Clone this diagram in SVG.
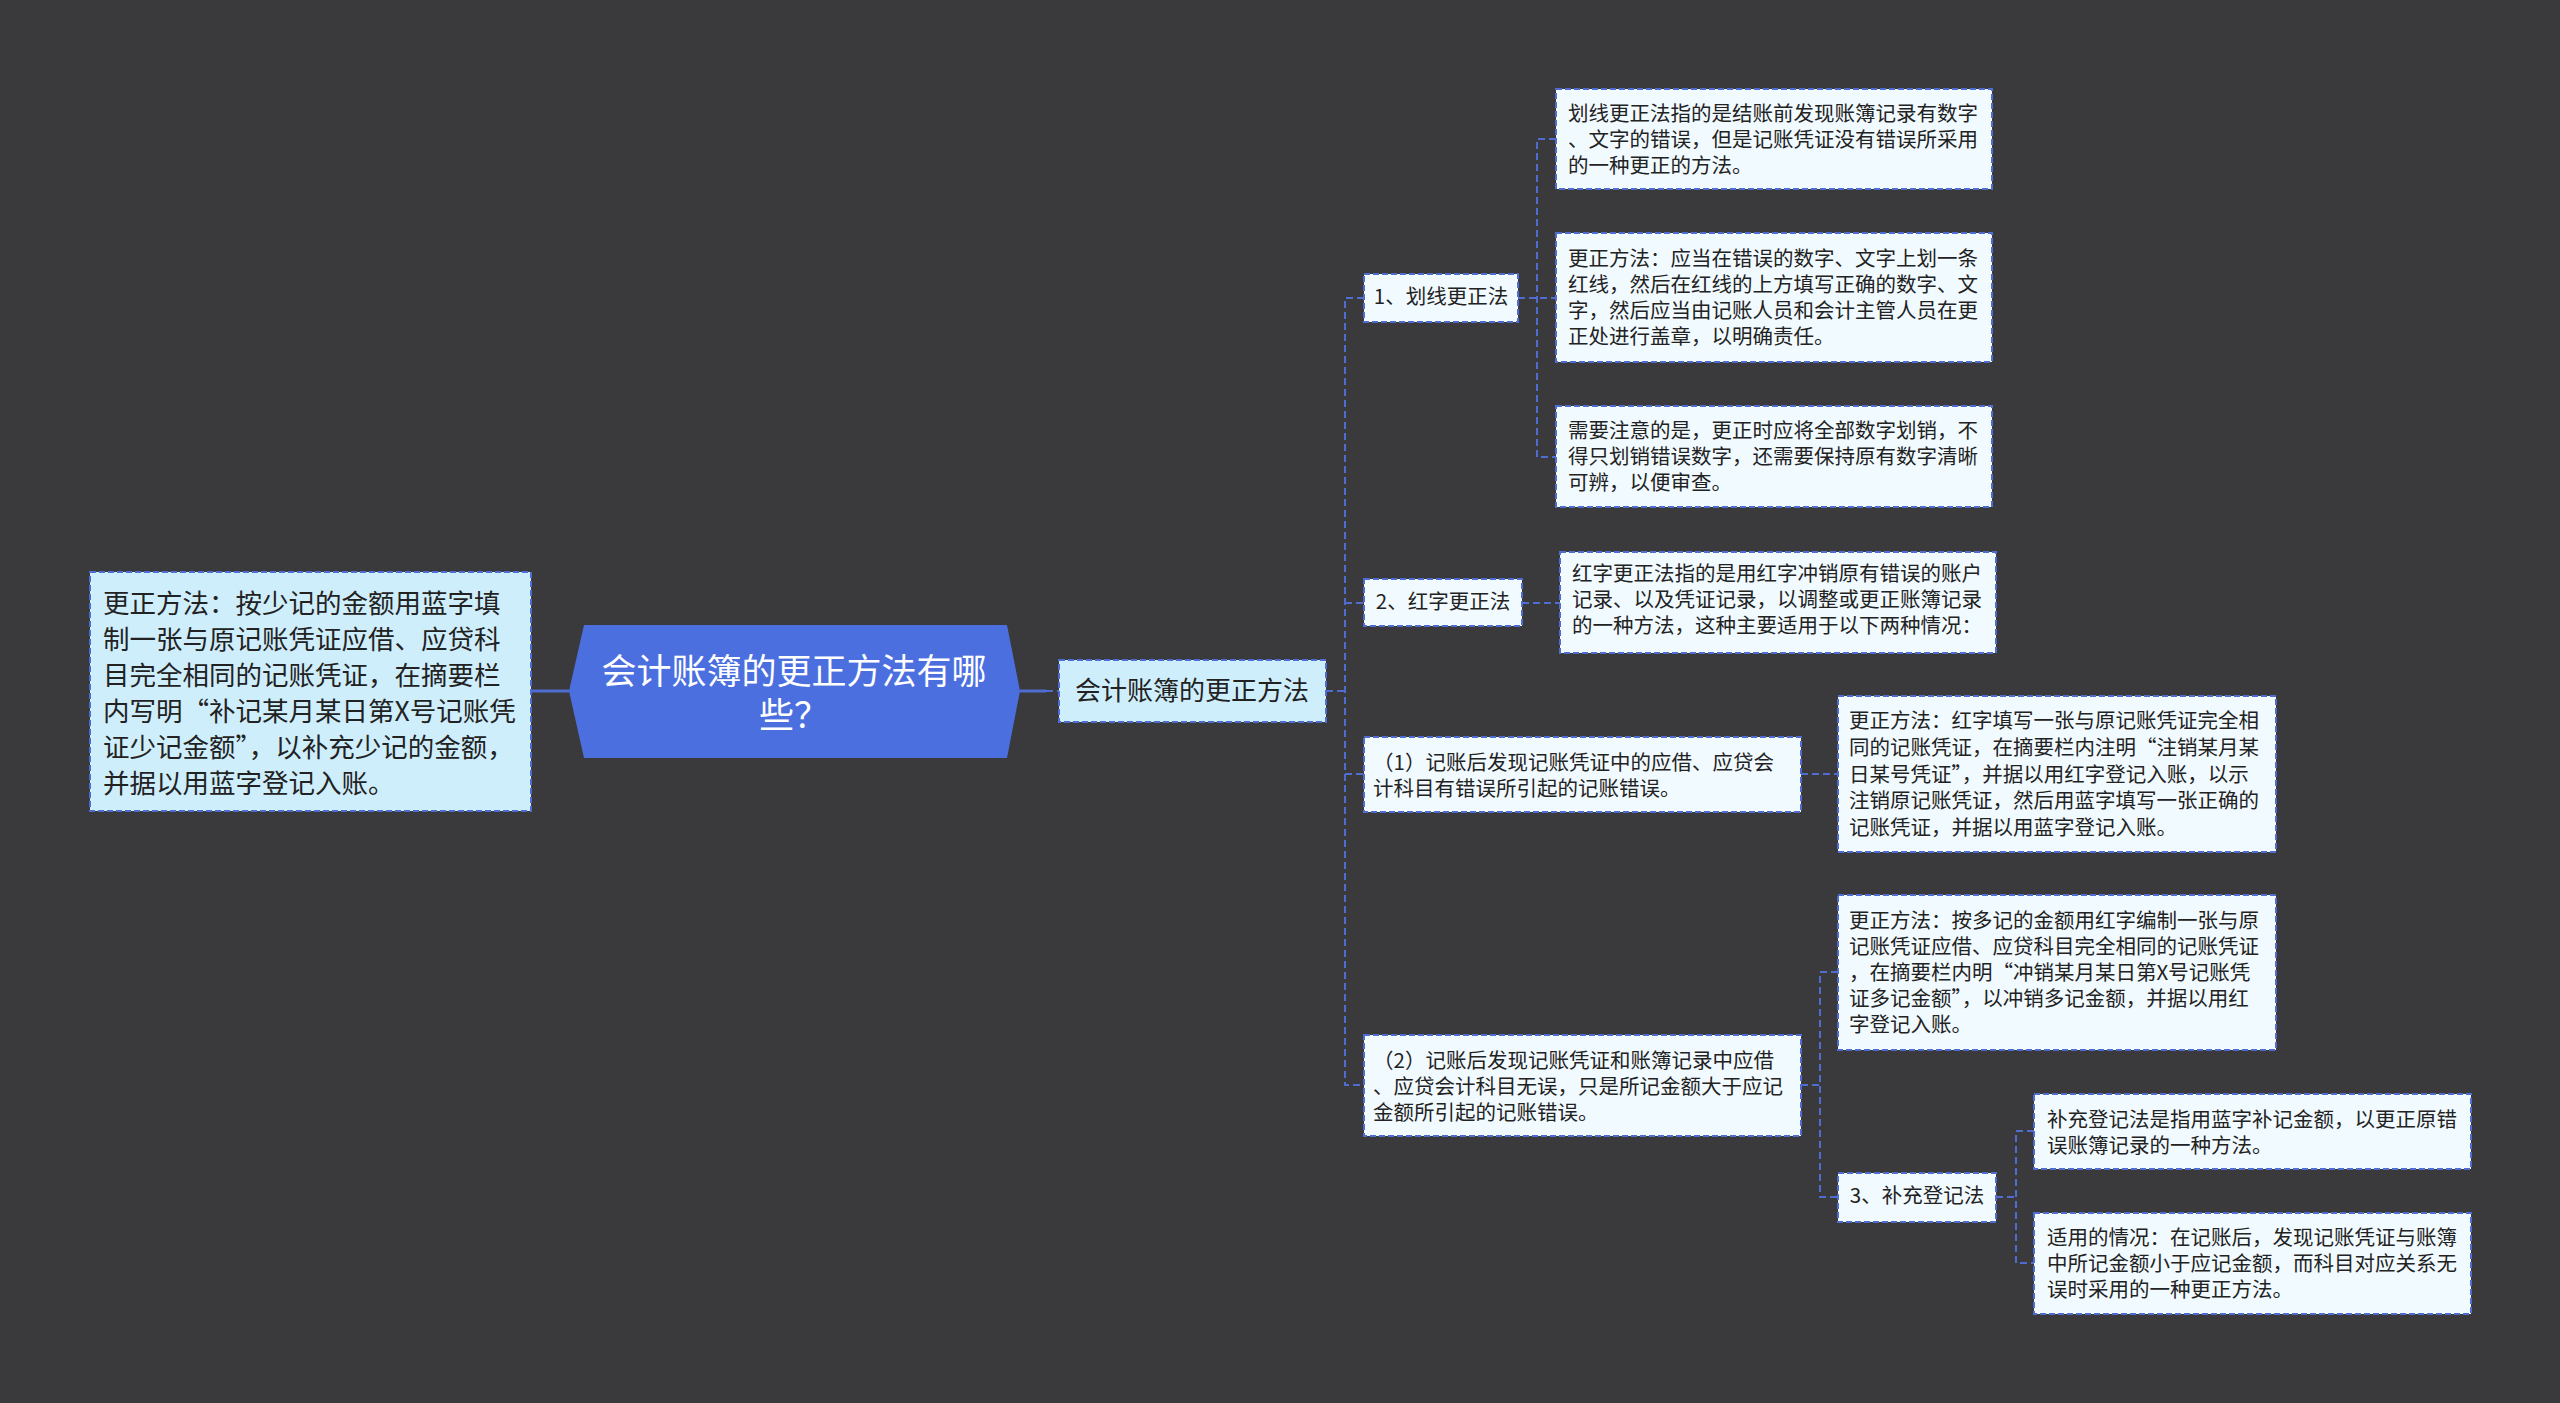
<svg xmlns="http://www.w3.org/2000/svg" width="2560" height="1403" viewBox="0 0 2560 1403">
<style>
.bg{fill:#3a393c}
.leaf{fill:#f1faff;stroke:#4f6dd0;stroke-width:2;stroke-dasharray:6 3}
.sub{fill:#cfeefc;stroke:#4f6dd0;stroke-width:2;stroke-dasharray:6 3}
.root{fill:#4c6fe0}
.t{font-family:"Noto Sans CJK SC","Noto Sans",sans-serif;fill:#222;dominant-baseline:central;transform:translateY(-3px)}
.s{font-size:20.5px}
.m{font-size:26.5px}
.w{fill:#ffffff;font-size:35px}
.c{text-anchor:middle}
.ln{fill:none;stroke:#4f6dd0;stroke-width:2;stroke-dasharray:7 4}
.solid{fill:none;stroke:#4f6dd0;stroke-width:3}
</style>
<rect class="bg" x="0" y="0" width="2560" height="1403"/>

<g id="connectors">
<path class="solid" d="M531 691 H569"/>
<path class="solid" d="M1020 691 H1046"/>
<path class="ln" d="M1046 691 H1059"/>
<path class="ln" d="M1326 691 H1345"/>
<path class="ln" d="M1364 298 H1345 V1085 H1364"/>
<path class="ln" d="M1345 603 H1364"/>
<path class="ln" d="M1345 774 H1364"/>
<path class="ln" d="M1518 298 H1556"/>
<path class="ln" d="M1556 139 H1537 V457 H1556"/>
<path class="ln" d="M1522 603 H1560"/>
<path class="ln" d="M1801 774 H1838"/>
<path class="ln" d="M1801 1085 H1820"/>
<path class="ln" d="M1838 972 H1820 V1197 H1838"/>
<path class="ln" d="M1996 1197 H2016"/>
<path class="ln" d="M2034 1131 H2016 V1263 H2034"/>
</g>

<g id="left-box">
<rect class="sub" x="90" y="572" width="441" height="239"/>
<text class="t m" x="103" y="604">更正方法：按少记的金额用蓝字填</text>
<text class="t m" x="103" y="640">制一张与原记账凭证应借、应贷科</text>
<text class="t m" x="103" y="676">目完全相同的记账凭证，在摘要栏</text>
<text class="t m" x="103" y="712">内写明“补记某月某日第X号记账凭</text>
<text class="t m" x="103" y="748">证少记金额”，以补充少记的金额，</text>
<text class="t m" x="103" y="784">并据以用蓝字登记入账。</text>
</g>

<g id="root">
<polygon class="root" points="569,691 584,625 1007,625 1020,691 1007,758 584,758"/>
<text class="t w c" x="794" y="671"><tspan x="794" y="671">会计账簿的更正方法有哪</tspan><tspan x="794" y="715">些？</tspan></text>
</g>

<g id="main-topic">
<rect class="sub" x="1059" y="660" width="267" height="62"/>
<text class="t c" style="font-size:26px" x="1192" y="691">会计账簿的更正方法</text>
</g>

<g id="n1">
<rect class="leaf" x="1364" y="274" width="154" height="48"/>
<text class="t s c" x="1441" y="298">1、划线更正法</text>
</g>

<g id="n1a">
<rect class="leaf" x="1556" y="89" width="436" height="100"/>
<text class="t s" x="1568" y="115">划线更正法指的是结账前发现账簿记录有数字</text>
<text class="t s" x="1568" y="141">、文字的错误，但是记账凭证没有错误所采用</text>
<text class="t s" x="1568" y="167">的一种更正的方法。</text>
</g>

<g id="n1b">
<rect class="leaf" x="1556" y="233" width="436" height="129"/>
<text class="t s" x="1568" y="260">更正方法：应当在错误的数字、文字上划一条</text>
<text class="t s" x="1568" y="286">红线，然后在红线的上方填写正确的数字、文</text>
<text class="t s" x="1568" y="312">字，然后应当由记账人员和会计主管人员在更</text>
<text class="t s" x="1568" y="338">正处进行盖章，以明确责任。</text>
</g>

<g id="n1c">
<rect class="leaf" x="1556" y="406" width="436" height="101"/>
<text class="t s" x="1568" y="432">需要注意的是，更正时应将全部数字划销，不</text>
<text class="t s" x="1568" y="458">得只划销错误数字，还需要保持原有数字清晰</text>
<text class="t s" x="1568" y="484">可辨，以便审查。</text>
</g>

<g id="n2">
<rect class="leaf" x="1364" y="579" width="158" height="47"/>
<text class="t s c" x="1443" y="603">2、红字更正法</text>
</g>

<g id="n2a">
<rect class="leaf" x="1560" y="552" width="436" height="101"/>
<text class="t s" x="1572" y="575">红字更正法指的是用红字冲销原有错误的账户</text>
<text class="t s" x="1572" y="601">记录、以及凭证记录，以调整或更正账簿记录</text>
<text class="t s" x="1572" y="627">的一种方法，这种主要适用于以下两种情况：</text>
</g>

<g id="case1">
<rect class="leaf" x="1364" y="737" width="437" height="75"/>
<text class="t s" x="1373" y="764">（1）记账后发现记账凭证中的应借、应贷会</text>
<text class="t s" x="1373" y="790">计科目有错误所引起的记账错误。</text>
</g>

<g id="case1a">
<rect class="leaf" x="1838" y="696" width="438" height="156"/>
<text class="t s" x="1849" y="722">更正方法：红字填写一张与原记账凭证完全相</text>
<text class="t s" x="1849" y="749">同的记账凭证，在摘要栏内注明“注销某月某</text>
<text class="t s" x="1849" y="776">日某号凭证”，并据以用红字登记入账，以示</text>
<text class="t s" x="1849" y="802">注销原记账凭证，然后用蓝字填写一张正确的</text>
<text class="t s" x="1849" y="829">记账凭证，并据以用蓝字登记入账。</text>
</g>

<g id="case2">
<rect class="leaf" x="1364" y="1035" width="437" height="101"/>
<text class="t s" x="1373" y="1062">（2）记账后发现记账凭证和账簿记录中应借</text>
<text class="t s" x="1373" y="1088">、应贷会计科目无误，只是所记金额大于应记</text>
<text class="t s" x="1373" y="1114">金额所引起的记账错误。</text>
</g>

<g id="case2a">
<rect class="leaf" x="1838" y="895" width="438" height="155"/>
<text class="t s" x="1849" y="922">更正方法：按多记的金额用红字编制一张与原</text>
<text class="t s" x="1849" y="948">记账凭证应借、应贷科目完全相同的记账凭证</text>
<text class="t s" x="1849" y="974">，在摘要栏内明“冲销某月某日第X号记账凭</text>
<text class="t s" x="1849" y="1000">证多记金额”，以冲销多记金额，并据以用红</text>
<text class="t s" x="1849" y="1026">字登记入账。</text>
</g>

<g id="n3">
<rect class="leaf" x="1838" y="1173" width="158" height="49"/>
<text class="t s c" x="1917" y="1197">3、补充登记法</text>
</g>

<g id="n3a">
<rect class="leaf" x="2034" y="1094" width="437" height="75"/>
<text class="t s" x="2047" y="1121">补充登记法是指用蓝字补记金额，以更正原错</text>
<text class="t s" x="2047" y="1147">误账簿记录的一种方法。</text>
</g>

<g id="n3b">
<rect class="leaf" x="2034" y="1213" width="437" height="101"/>
<text class="t s" x="2047" y="1239">适用的情况：在记账后，发现记账凭证与账簿</text>
<text class="t s" x="2047" y="1265">中所记金额小于应记金额，而科目对应关系无</text>
<text class="t s" x="2047" y="1291">误时采用的一种更正方法。</text>
</g>
</svg>
